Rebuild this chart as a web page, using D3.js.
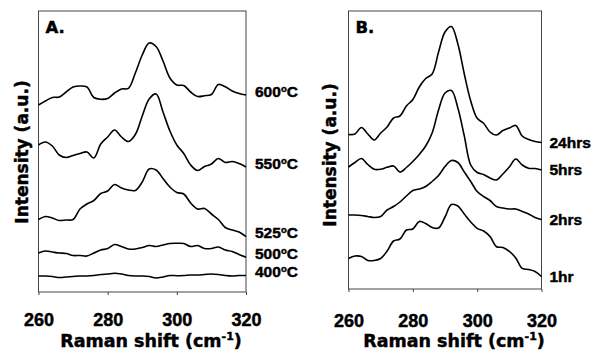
<!DOCTYPE html>
<html>
<head>
<meta charset="utf-8">
<script src="https://cdnjs.cloudflare.com/ajax/libs/d3/7.8.5/d3.min.js"></script>
<style>
  body { margin: 0; background: #fff; }
  svg { display: block; }
  text { stroke: #000; stroke-width: 0.45px; }
</style>
</head>
<body>
<div id="chart"></div>
<script>
// Raman shift grid (cm-1), shared by both panels
const shift = [260, 262, 264, 266, 268, 270, 272, 274, 276, 278, 280, 282, 284, 286, 288, 290,
  292, 294, 296, 298, 300, 302, 304, 306, 308, 310, 312, 314, 316, 318, 320];
const xTicks = [260, 280, 300, 320];

// panel A - annealing temperature (intensity in a.u., offset stacked)
const tempLabels = ['600', '550', '525', '500', '400'];
const temp600 = [187, 191, 194.5, 195, 200, 205, 206, 205, 194.5, 192.7, 193.5, 199, 203, 203.7, 219, 237,
  249, 245.5, 231, 214, 207, 206.5, 200, 195.5, 196.3, 197.5, 207.5, 205.3, 201, 198.5, 197];
const temp550 = [147, 150, 146, 137, 134.5, 136.5, 138.5, 140, 134, 148, 155, 162, 155, 150.5, 157.5, 176,
  193, 198, 180, 161, 147, 138.5, 127, 121.5, 125.5, 128, 133.5, 129.5, 130.5, 128.5, 125];
const temp525 = [72.5, 75.5, 74, 71.5, 72, 72.5, 83, 88, 91.5, 98.5, 101, 107.5, 104, 102, 101.5, 110,
  123, 122, 113.5, 105, 99.5, 98, 89, 83, 83.5, 78, 72.5, 64.5, 62, 60, 55.3];
const temp500 = [39, 41, 40, 39, 38.5, 36.5, 36.5, 36, 39, 42, 43.5, 47.5, 45.5, 43, 43, 44.5,
  46.5, 45.5, 47, 48.5, 48.7, 48.5, 45.5, 46.5, 43.5, 43.5, 45, 42, 40.5, 37.5, 34.7];
const temp400 = [16, 16, 15.5, 14.5, 15, 15.5, 16, 16, 16.5, 17.5, 18, 18.7, 18, 16.5, 16, 16,
  15.5, 14, 15, 16.5, 16.3, 16.5, 17, 17, 17.5, 18, 17.5, 16.5, 16, 16.5, 16.5];

// panel B - annealing time
const timeLabels = ['24hrs', '5hrs', '2hrs', '1hr'];
const time24 = [154.5, 155, 161.5, 155, 149, 156, 162, 171, 173, 183, 189.5, 202, 210.5, 215, 237, 257,
  262.5, 245, 215, 188, 170.7, 165.7, 157, 154, 158.5, 161, 163.5, 153, 149.5, 147.5, 146.5];
const time5 = [122, 126.5, 130.5, 124.5, 119.7, 119.7, 121.7, 123, 117, 121.5, 127.5, 134.5, 143, 156, 179, 196,
  198.5, 181, 153, 124, 116.5, 114.5, 111, 109, 115, 122, 130, 124, 120.7, 120.5, 119];
const time2 = [74, 74, 73.5, 72.5, 71.5, 72.5, 79, 82.5, 87, 93, 98.5, 100, 102.5, 107.5, 113.5, 122.5,
  128.5, 126.5, 117, 107.5, 97.5, 92.5, 88.5, 82.5, 81, 80, 80, 77.5, 75, 71.5, 69.5];
const time1 = [30.5, 33, 32.5, 28.5, 28.5, 30.5, 38, 48, 50, 59, 60, 67.5, 65.5, 61.5, 61, 72,
  84.5, 83, 75, 67, 60.7, 58, 52.5, 42.3, 41.5, 37.7, 31, 20.7, 19.5, 17.5, 12.5];

const width = 593;
const height = 354;
const labelFont = '"Liberation Sans", Arial, sans-serif';
const titleFont = '"DejaVu Sans", sans-serif';

const svg = d3.select('#chart')
  .append('svg')
  .attr('width', width)
  .attr('height', height);

function drawPanel(p) {
  const x = d3.scaleLinear().domain([260, 320]).range([p.left, p.right]);
  const y = d3.scaleLinear().domain([0, p.bottom - p.top]).range([p.bottom, p.top]);

  const g = svg.append('g');

  // bottom ticks + labels
  g.append('g')
    .attr('transform', `translate(0,${p.bottom})`)
    .call(d3.axisBottom(x).tickValues(xTicks).tickSize(3).tickPadding(p.tickPad).tickFormat(d3.format('d')))
    .call(a => a.select('.domain').remove())
    .call(a => a.selectAll('line').attr('stroke', '#444'))
    .call(a => a.selectAll('text')
      .attr('fill', '#000')
      .style('font', `bold 18px ${labelFont}`));

  // frame
  g.append('rect')
    .attr('x', p.left)
    .attr('y', p.top)
    .attr('width', p.right - p.left)
    .attr('height', p.bottom - p.top)
    .attr('fill', 'none')
    .attr('stroke', '#444')
    .attr('stroke-width', 1);

  const line = d3.line()
    .x((d, i) => x(shift[i]))
    .y(d => y(d))
    .curve(d3.curveCatmullRom.alpha(0.5));

  p.series.forEach(s => {
    g.append('path')
      .datum(s.values)
      .attr('d', line)
      .attr('fill', 'none')
      .attr('stroke', '#000')
      .attr('stroke-width', 1.6)
      .attr('stroke-linejoin', 'round');

    const t = g.append('text')
      .attr('x', p.right + p.labelDx)
      .attr('y', y(s.values[s.values.length - 1]) + p.labelDy)
      .style('font', `bold 15.5px ${labelFont}`)
      .attr('fill', '#000')
      .text(s.label);
    if (s.degree) {
      t.append('tspan').attr('dy', -5).style('font-size', '9.5px').text('o');
      t.append('tspan').attr('dy', 5).text('C');
    }
  });

  // panel letter
  g.append('text')
    .attr('x', p.left + 7)
    .attr('y', p.top + 22)
    .style('font', `bold 16.5px ${titleFont}`)
    .text(p.letter);

  // x title
  const xt = g.append('text')
    .attr('x', p.titleX)
    .attr('y', 347)
    .attr('text-anchor', 'middle')
    .style('font', `bold 17.5px ${titleFont}`)
    .text('Raman shift (cm');
  xt.append('tspan').attr('dy', -7).style('font-size', '11px').text('-1');
  xt.append('tspan').attr('dy', 7).text(')');

  // y title
  g.append('text')
    .attr('transform', `translate(${p.yTitleX},${p.yTitleY}) rotate(-90)`)
    .attr('text-anchor', 'middle')
    .style('font', `bold 17px ${titleFont}`)
    .text('Intensity (a.u.)');
}

drawPanel({
  left: 38.5, right: 246, top: 11, bottom: 292,
  tickPad: 18, labelDx: 9, labelDy: 1.5,
  letter: 'A.', titleX: 151, yTitleX: 28, yTitleY: 152,
  series: [temp600, temp550, temp525, temp500, temp400]
    .map((v, i) => ({values: v, label: tempLabels[i], degree: true}))
});

drawPanel({
  left: 348.5, right: 541.5, top: 11, bottom: 289,
  tickPad: 22, labelDx: 8, labelDy: 5,
  letter: 'B.', titleX: 454, yTitleX: 336, yTitleY: 155,
  series: [time24, time5, time2, time1]
    .map((v, i) => ({values: v, label: timeLabels[i], degree: false}))
});
</script>
</body>
</html>
